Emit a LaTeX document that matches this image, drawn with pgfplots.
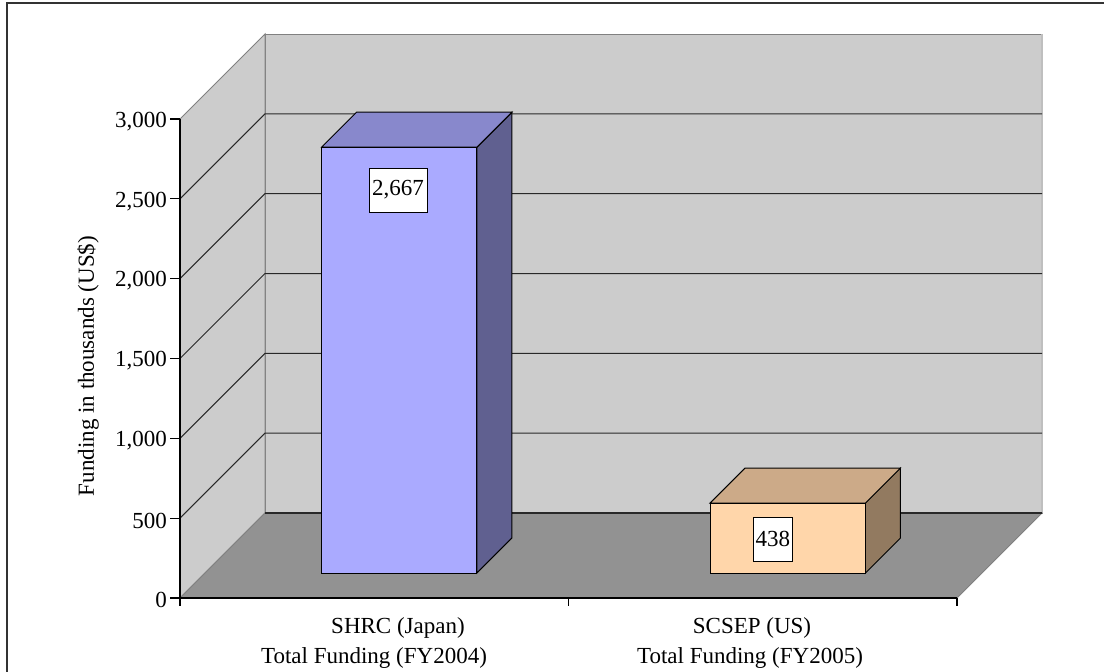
\documentclass[border=0pt]{standalone}
\usepackage{pgfplots}
\pgfplotsset{compat=1.18}
\usepackage{fontspec}
\setmainfont{Liberation Serif}

\definecolor{wall}{RGB}{204,204,204}
\definecolor{floor}{RGB}{146,146,146}
\definecolor{edge}{RGB}{128,128,128}
\definecolor{gridc}{RGB}{40,40,40}
\definecolor{jpfront}{RGB}{170,170,255}
\definecolor{jptop}{RGB}{136,136,204}
\definecolor{jpside}{RGB}{96,96,144}
\definecolor{usfront}{RGB}{255,214,170}
\definecolor{ustop}{RGB}{204,170,136}
\definecolor{usside}{RGB}{146,122,96}

\begin{document}
\begin{tikzpicture}
\path[use as bounding box, clip] (0,0) rectangle (552pt,335.5pt);
\draw[black!80, line width=1pt] (3.5pt,-10pt) rectangle (600pt,334pt);

\begin{axis}[
  at={(90pt,36.5pt)}, anchor=origin,
  x={(194.25pt,0pt)}, y={(42.5pt,42.5pt)}, z={(0pt,0.079833pt)},
  xmin=0, xmax=2, ymin=0, ymax=1, zmin=0, zmax=3000,
  axis lines=left,
  axis line style={-, black, line width=0.6pt},
  y axis line style={draw=none},
  axis on top, clip=false,
  xtick={0,1,2}, xticklabels={}, ytick=\empty,
  ztick={0,500,...,3000},
  scaled z ticks=false,
  major tick length=0pt,
  tick style={draw=none},
  z tick label style={anchor=east, xshift=-3pt, yshift=-1.2pt, font=\fontsize{11.5}{13}\selectfont},
  /pgf/number format/1000 sep={,},
  /pgf/number format/assume math mode=true,
]
% walls and floor
\addplot3[fill=wall, draw=edge, line width=0.5pt] coordinates {(0,1,0) (2,1,0) (2,1,3000) (0,1,3000)} -- cycle;
\addplot3[draw=black!25, line width=0.6pt] coordinates {(2,1,0) (2,1,3000)};
\addplot3[fill=wall, draw=edge, line width=0.5pt] coordinates {(0,0,0) (0,1,0) (0,1,3000) (0,0,3000)} -- cycle;
\addplot3[fill=floor, draw=edge, line width=0.5pt] coordinates {(0,0,0) (2,0,0) (2,1,0) (0,1,0)} -- cycle;
\addplot3[gridc, line width=0.6pt] coordinates {(0,1,0) (2,1,0)};
\pgfplotsinvokeforeach{500,1000,1500,2000,2500}{
  \addplot3[gridc, line width=0.5pt] coordinates {(0,0,#1) (0,1,#1) (2,1,#1)};
}
% tick marks: horizontal on the value axis, downward on the category axis
\pgfplotsinvokeforeach{0,500,1000,1500,2000,2500,3000}{
  \addplot3[black, line width=0.6pt] coordinates {(0,0,#1) (-0.026,0,#1)};
}
\pgfplotsinvokeforeach{0,1,2}{
  \addplot3[black, line width=0.6pt] coordinates {(#1,0,0) (#1,0,-50)};
}

% SHRC (Japan): 2667
\addplot3[fill=jpside, draw=black, line width=0.5pt] coordinates {(0.7,0.294,0) (0.7,0.706,0) (0.7,0.706,2667) (0.7,0.294,2667)} -- cycle;
\addplot3[fill=jptop, draw=black, line width=0.5pt] coordinates {(0.3,0.294,2667) (0.7,0.294,2667) (0.7,0.706,2667) (0.3,0.706,2667)} -- cycle;
\addplot3[fill=jpfront, draw=black, line width=0.5pt] coordinates {(0.3,0.294,0) (0.7,0.294,0) (0.7,0.294,2667) (0.3,0.294,2667)} -- cycle;

% SCSEP (US): 438
\addplot3[fill=usside, draw=black, line width=0.5pt] coordinates {(1.7,0.294,0) (1.7,0.706,0) (1.7,0.706,438) (1.7,0.294,438)} -- cycle;
\addplot3[fill=ustop, draw=black, line width=0.5pt] coordinates {(1.3,0.294,438) (1.7,0.294,438) (1.7,0.706,438) (1.3,0.706,438)} -- cycle;
\addplot3[fill=usfront, draw=black, line width=0.5pt] coordinates {(1.3,0.294,0) (1.7,0.294,0) (1.7,0.294,438) (1.3,0.294,438)} -- cycle;

\node[draw=black, fill=white, inner xsep=1.5pt, minimum height=22pt, font=\fontsize{11.5}{14}\selectfont] at (axis cs:0.497,0.294,2399) {2,667};
\node[draw=black, fill=white, inner xsep=1.2pt, minimum height=22pt, font=\fontsize{11.5}{14}\selectfont] at (axis cs:1.462,0.294,213) {438};
\end{axis}

\begin{scope}[every node/.style={font=\fontsize{11.5}{14}\selectfont}]
\node at (199pt,21.5pt) {SHRC (Japan)};
\node at (187pt,6.5pt) {Total Funding (FY2004)};
\node at (376pt,21.5pt) {SCSEP (US)};
\node at (375pt,6.5pt) {Total Funding (FY2005)};
\node[rotate=90] at (44pt,152.5pt) {Funding in thousands (US\$)};
\end{scope}
\end{tikzpicture}
\end{document}
